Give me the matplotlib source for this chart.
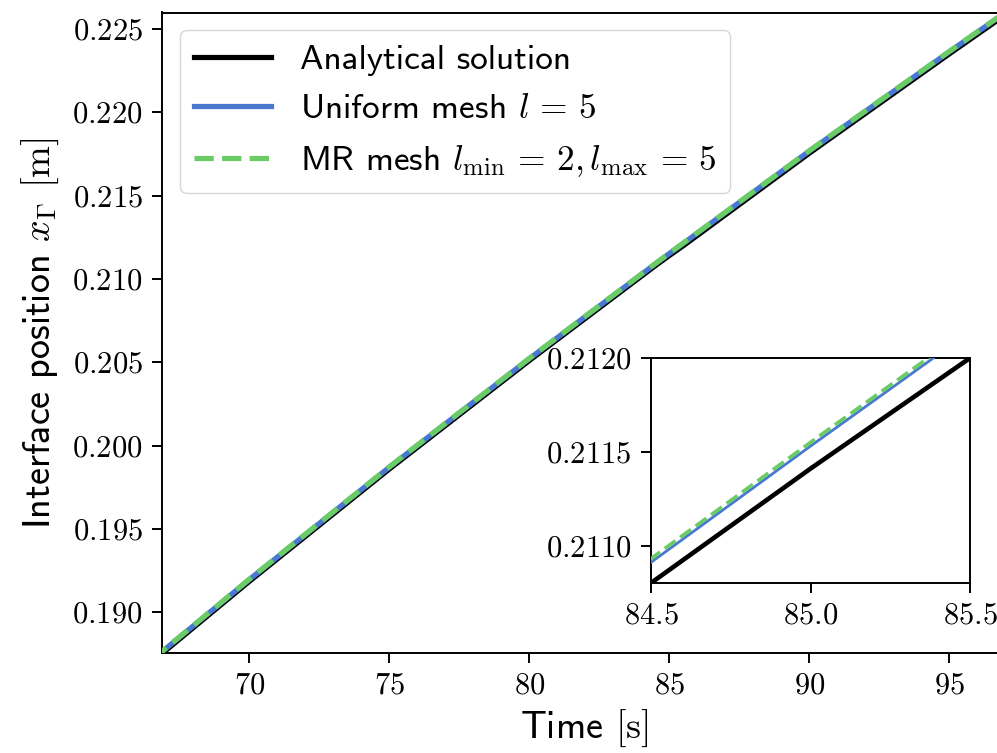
import numpy as np
import matplotlib
matplotlib.use('Agg')
import matplotlib.pyplot as plt
from matplotlib.ticker import MultipleLocator, FuncFormatter

# ============================================
# Данные
# ============================================
time_s = [66.5, 70.0, 75.0, 80.0, 84.5, 85.0, 85.5, 90.0, 95.0, 97.5]
x_analytical = [0.18700, 0.19186, 0.19860, 0.20511, 0.21080, 0.21141, 0.21200,
                0.21755, 0.22351, 0.22644]
x_uniform = [0.18711, 0.19197, 0.19871, 0.20522, 0.21091, 0.21153, 0.21214,
             0.21768, 0.22364, 0.22657]
x_mr = [0.18713, 0.19199, 0.19873, 0.20524, 0.21093, 0.21155, 0.21216,
        0.21770, 0.22366, 0.22659]

labels = ['Analytical solution', r'Uniform mesh $l\,=\,5$',
          r'MR mesh $l_{\min}\,=\,2, l_{\max}\,=\,5$']

c_black = 'black'
c_blue = '#4878d0'
c_green = '#6acc64'

plt.rcParams['font.family'] = ['cmss10', 'DejaVu Sans']
plt.rcParams['mathtext.fontset'] = 'cm'
plt.rcParams['axes.unicode_minus'] = False

FS_TICK = 22
FS_LEGEND = 25.4
FS_LABEL = 27.5

fig = plt.figure(figsize=(9.97, 7.53), dpi=100)
ax = fig.add_axes([162 / 997, 100 / 753, 845.6 / 997, 640.5 / 753])

lw = 3.75
ax.plot(time_s, x_analytical, color=c_black, lw=lw, label=labels[0], zorder=2)
ax.plot(time_s, x_uniform, color=c_blue, lw=lw, label=labels[1], zorder=3)
ax.plot(time_s, x_mr, color=c_green, lw=lw, ls='--', label=labels[2], zorder=4)

ax.set_xlim(66.88, 97.08)
ax.set_ylim(0.18756, 0.22599)
ax.xaxis.set_major_locator(MultipleLocator(5))
ax.yaxis.set_major_locator(MultipleLocator(0.005))
ax.xaxis.set_major_formatter(FuncFormatter(lambda v, p: f'${v:.0f}$'))
ax.yaxis.set_major_formatter(FuncFormatter(lambda v, p: f'${v:.3f}$'))
ax.tick_params(labelsize=FS_TICK, length=7, width=1.4, pad=7)
for s in ax.spines.values():
    s.set_linewidth(1.4)

ax.set_xlabel(r'Time $[\mathrm{s}]$', fontsize=FS_LABEL, labelpad=6)
ax.set_ylabel(r'Interface position $x_\Gamma$ $[\mathrm{m}]$', fontsize=FS_LABEL, labelpad=8)

ax.legend(loc='upper left', fontsize=FS_LEGEND, handlelength=2.2,
          borderaxespad=0.5, framealpha=0.8)

# вставка (увеличенный фрагмент)
axin = fig.add_axes([651 / 997, 170 / 753, 319 / 997, 225 / 753])
axin.plot(time_s, x_analytical, color=c_black, lw=3.3, zorder=2)
axin.plot(time_s, x_uniform, color=c_blue, lw=2.0, zorder=3)
axin.plot(time_s, x_mr, color=c_green, lw=2.6, ls='--', zorder=4)
axin.set_xlim(84.5, 85.5)
axin.set_ylim(0.21080, 0.2120)
axin.set_xticks([84.5, 85.0, 85.5])
axin.set_yticks([0.2110, 0.2115, 0.2120])
axin.xaxis.set_major_formatter(FuncFormatter(lambda v, p: f'${v:.1f}$'))
axin.yaxis.set_major_formatter(FuncFormatter(lambda v, p: f'${v:.4f}$'))
axin.tick_params(labelsize=FS_TICK, length=7, width=1.4, pad=7)
for s in axin.spines.values():
    s.set_linewidth(1.4)

fig.savefig('out.png', dpi=100)
